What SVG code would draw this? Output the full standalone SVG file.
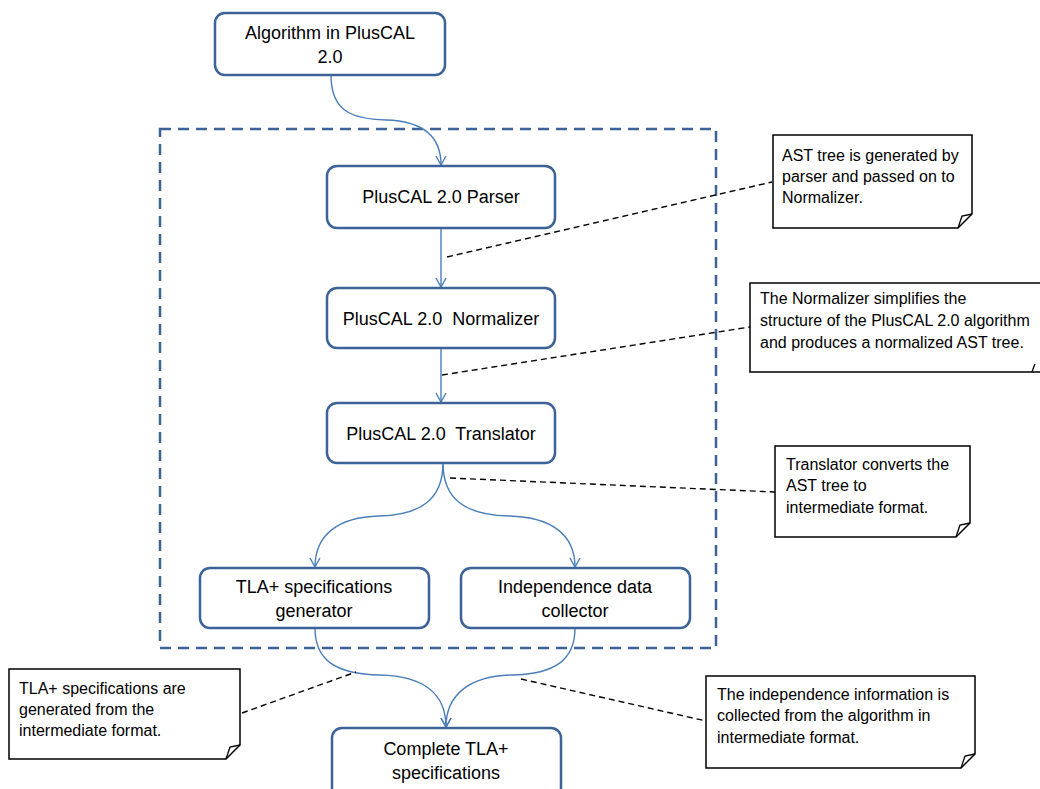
<svg xmlns="http://www.w3.org/2000/svg" width="1040" height="789" viewBox="0 0 1040 789">
<defs>
<style>
.node rect{fill:#fff;stroke:#3d6298;stroke-width:2.5}
.nt{font-family:"Liberation Sans",Arial,sans-serif;font-size:18px;fill:#000;text-anchor:middle;white-space:pre}
.note path.b{fill:#fff;stroke:#000;stroke-width:1.5}
.note path.f{fill:none;stroke:#000;stroke-width:1.3}
.tt{font-family:"Liberation Sans",Arial,sans-serif;font-size:16px;fill:#000}
.conn{fill:none;stroke:#4a7ebb;stroke-width:1.4}
.lead{fill:none;stroke:#000;stroke-width:1.4;stroke-dasharray:6,4}
</style>
<marker id="arr" viewBox="0 0 12 12" refX="10" refY="6" markerWidth="12" markerHeight="12" markerUnits="userSpaceOnUse" orient="auto">
<path d="M1,1 L10,6 L1,11" fill="none" stroke="#4a7ebb" stroke-width="1.4"/>
</marker>
</defs>
<rect width="1040" height="789" fill="#fff"/>
<rect id="boundary" x="160" y="129" width="556" height="519" fill="none" stroke="#3d6298" stroke-width="2.5" stroke-dasharray="11,7"/>
<g id="connectors">
<path class="conn" marker-end="url(#arr)" d="M331,75 C331,110 350,119 386,120 C422,121 441,135 441,165"/>
<path class="conn" marker-end="url(#arr)" d="M441,228 L441,287"/>
<path class="conn" marker-end="url(#arr)" d="M441,348 L441,402"/>
<path class="conn" marker-end="url(#arr)" d="M443,463 C443,500 420,515 379,516 C338,517 315,535 315,567"/>
<path class="conn" marker-end="url(#arr)" d="M443,463 C443,500 466,515 509,516 C552,517 575,535 575,567"/>
<path class="conn" marker-end="url(#arr)" d="M315,628 C315,660 335,674 380,675 C425,676 446,695 446,727"/>
<path class="conn" marker-end="url(#arr)" d="M575,628 C575,660 555,674 512,675 C469,676 446,695 446,727"/>
<path class="lead" d="M447,257 L772,182"/>
<path class="lead" d="M442,375 L750,327"/>
<path class="lead" d="M450,478 L775,492"/>
<path class="lead" d="M242,713 L356,672"/>
<path class="lead" d="M521,679 L706,721"/>
</g>
<g id="n-algorithm" class="node"><rect x="215" y="13" width="230" height="62" rx="10"/><text class="nt" x="330" y="39">Algorithm in PlusCAL</text><text class="nt" x="330" y="63">2.0</text></g>
<g id="n-parser" class="node"><rect x="327" y="166" width="228" height="62" rx="10"/><text class="nt" x="441" y="203">PlusCAL 2.0 Parser</text></g>
<g id="n-normalizer" class="node"><rect x="327" y="288" width="228" height="60" rx="10"/><text class="nt" x="441" y="325" xml:space="preserve">PlusCAL 2.0  Normalizer</text></g>
<g id="n-translator" class="node"><rect x="327" y="403" width="228" height="60" rx="10"/><text class="nt" x="441" y="440" xml:space="preserve">PlusCAL 2.0  Translator</text></g>
<g id="n-tlagen" class="node"><rect x="200" y="568" width="229" height="60" rx="10"/><text class="nt" x="314" y="593">TLA+ specifications</text><text class="nt" x="314" y="617">generator</text></g>
<g id="n-indep" class="node"><rect x="461" y="568" width="229" height="60" rx="10"/><text class="nt" x="575" y="593">Independence data</text><text class="nt" x="575" y="617">collector</text></g>
<g id="n-complete" class="node"><rect x="332" y="728" width="229" height="70" rx="10"/><text class="nt" x="446" y="755">Complete TLA+</text><text class="nt" x="446" y="779">specifications</text></g>
<g id="note1" class="note"><path class="b" d="M773,135 H972 V214 L958,228 H773 Z"/><path class="f" d="M958,228 Q961,219 962,216 Q967,215 972,214"/><text class="tt" x="782" y="161">AST tree is generated by</text><text class="tt" x="782" y="182">parser and passed on to</text><text class="tt" x="782" y="203">Normalizer.</text></g>
<g id="note2" class="note"><path class="b" d="M750,283 H1052 V372 H750 Z"/><path class="f" d="M1032,372 Q1034,366 1035,364"/><text class="tt" x="760" y="304">The Normalizer simplifies the</text><text class="tt" x="760" y="326">structure of the PlusCAL 2.0 algorithm</text><text class="tt" x="760" y="348">and produces a normalized AST tree.</text></g>
<g id="note3" class="note"><path class="b" d="M775,446 H970 V523 L956,537 H775 Z"/><path class="f" d="M956,537 Q959,528 960,525 Q965,524 970,523"/><text class="tt" x="786" y="470">Translator converts the</text><text class="tt" x="786" y="491">AST tree to</text><text class="tt" x="786" y="513">intermediate format.</text></g>
<g id="note4" class="note"><path class="b" d="M9,669 H240 V745 L226,759 H9 Z"/><path class="f" d="M226,759 Q229,750 230,747 Q235,746 240,745"/><text class="tt" x="19" y="694">TLA+ specifications are</text><text class="tt" x="19" y="715">generated from the</text><text class="tt" x="19" y="736">intermediate format.</text></g>
<g id="note5" class="note"><path class="b" d="M706,676 H975 V754 L961,768 H706 Z"/><path class="f" d="M961,768 Q964,759 965,756 Q970,755 975,754"/><text class="tt" x="717" y="700">The independence information is</text><text class="tt" x="717" y="721">collected from the algorithm in</text><text class="tt" x="717" y="743">intermediate format.</text></g>
</svg>
